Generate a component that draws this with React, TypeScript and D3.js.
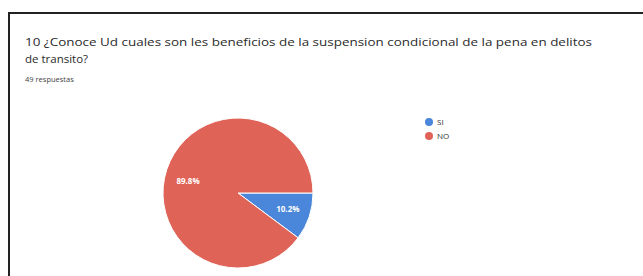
import React from "react";
import * as d3 from "d3";

const categories = ["SI", "NO"];
const values = [10.2, 89.8];
const colors = ["#4a86d9", "#df6357"];
const titleLines = [
  "10 ¿Conoce Ud cuales son les beneficios de la suspension condicional de la pena en delitos",
  "de transito?",
];
const subtitle = "49 respuestas";

export default function App() {
  const W = 643, H = 276;
  const cx = 238, cy = 193, r = 75;
  const pie = d3.pie<number>().sort(null).startAngle(Math.PI / 2).endAngle(Math.PI / 2 + 2 * Math.PI);
  const arcs = pie(values);
  const arc = d3.arc<d3.PieArcDatum<number>>().innerRadius(0).outerRadius(r);
  const total = d3.sum(values);
  return (
    <svg width={W} height={H} style={{ position: "absolute", left: 0, top: 0, background: "#fff" }}>
      <rect x={0} y={0} width={W} height={H} fill="#fff" />
      <line x1={8} y1={13} x2={W} y2={13} stroke="#222" strokeWidth={2} />
      <line x1={9} y1={12} x2={9} y2={H} stroke="#222" strokeWidth={2} />
      {titleLines.map((t, i) => (
        <text key={i} x={25} y={46 + i * 17} fontFamily="'Open Sans', sans-serif" fontSize={11.5} fill="#2a2a2a"
          textLength={i === 0 ? 567 : undefined} lengthAdjust="spacingAndGlyphs">
          {t}
        </text>
      ))}
      <text x={25} y={82} fontFamily="'Open Sans', sans-serif" fontSize={7.5} fill="#444">{subtitle}</text>
      <g transform={`translate(${cx},${cy})`}>
        {arcs.map((a, i) => (
          <path key={i} d={arc(a) || ""} fill={colors[i]} stroke="#fff" strokeWidth={1} />
        ))}
        {arcs.map((a, i) => {
          const [x, y] = d3.arc<d3.PieArcDatum<number>>().innerRadius(r * 0.7).outerRadius(r * 0.7).centroid(a);
          const lx = i === 1 ? -50 : x;
          const ly = i === 1 ? -12 : y;
          return (
            <text key={"l" + i} x={lx} y={ly} dy="0.35em" textAnchor="middle" fill="#fff"
              fontFamily="'Open Sans', sans-serif" fontSize={8} fontWeight="bold">
              {((values[i] / total) * 100).toFixed(1)}%
            </text>
          );
        })}
      </g>
      {categories.map((c, i) => (
        <g key={c} transform={`translate(429,${122 + i * 14})`}>
          <circle r={4} fill={colors[i]} />
          <text x={8} dy="0.35em" fontFamily="'Open Sans', sans-serif" fontSize={8} fill="#333">{c}</text>
        </g>
      ))}
    </svg>
  );
}
